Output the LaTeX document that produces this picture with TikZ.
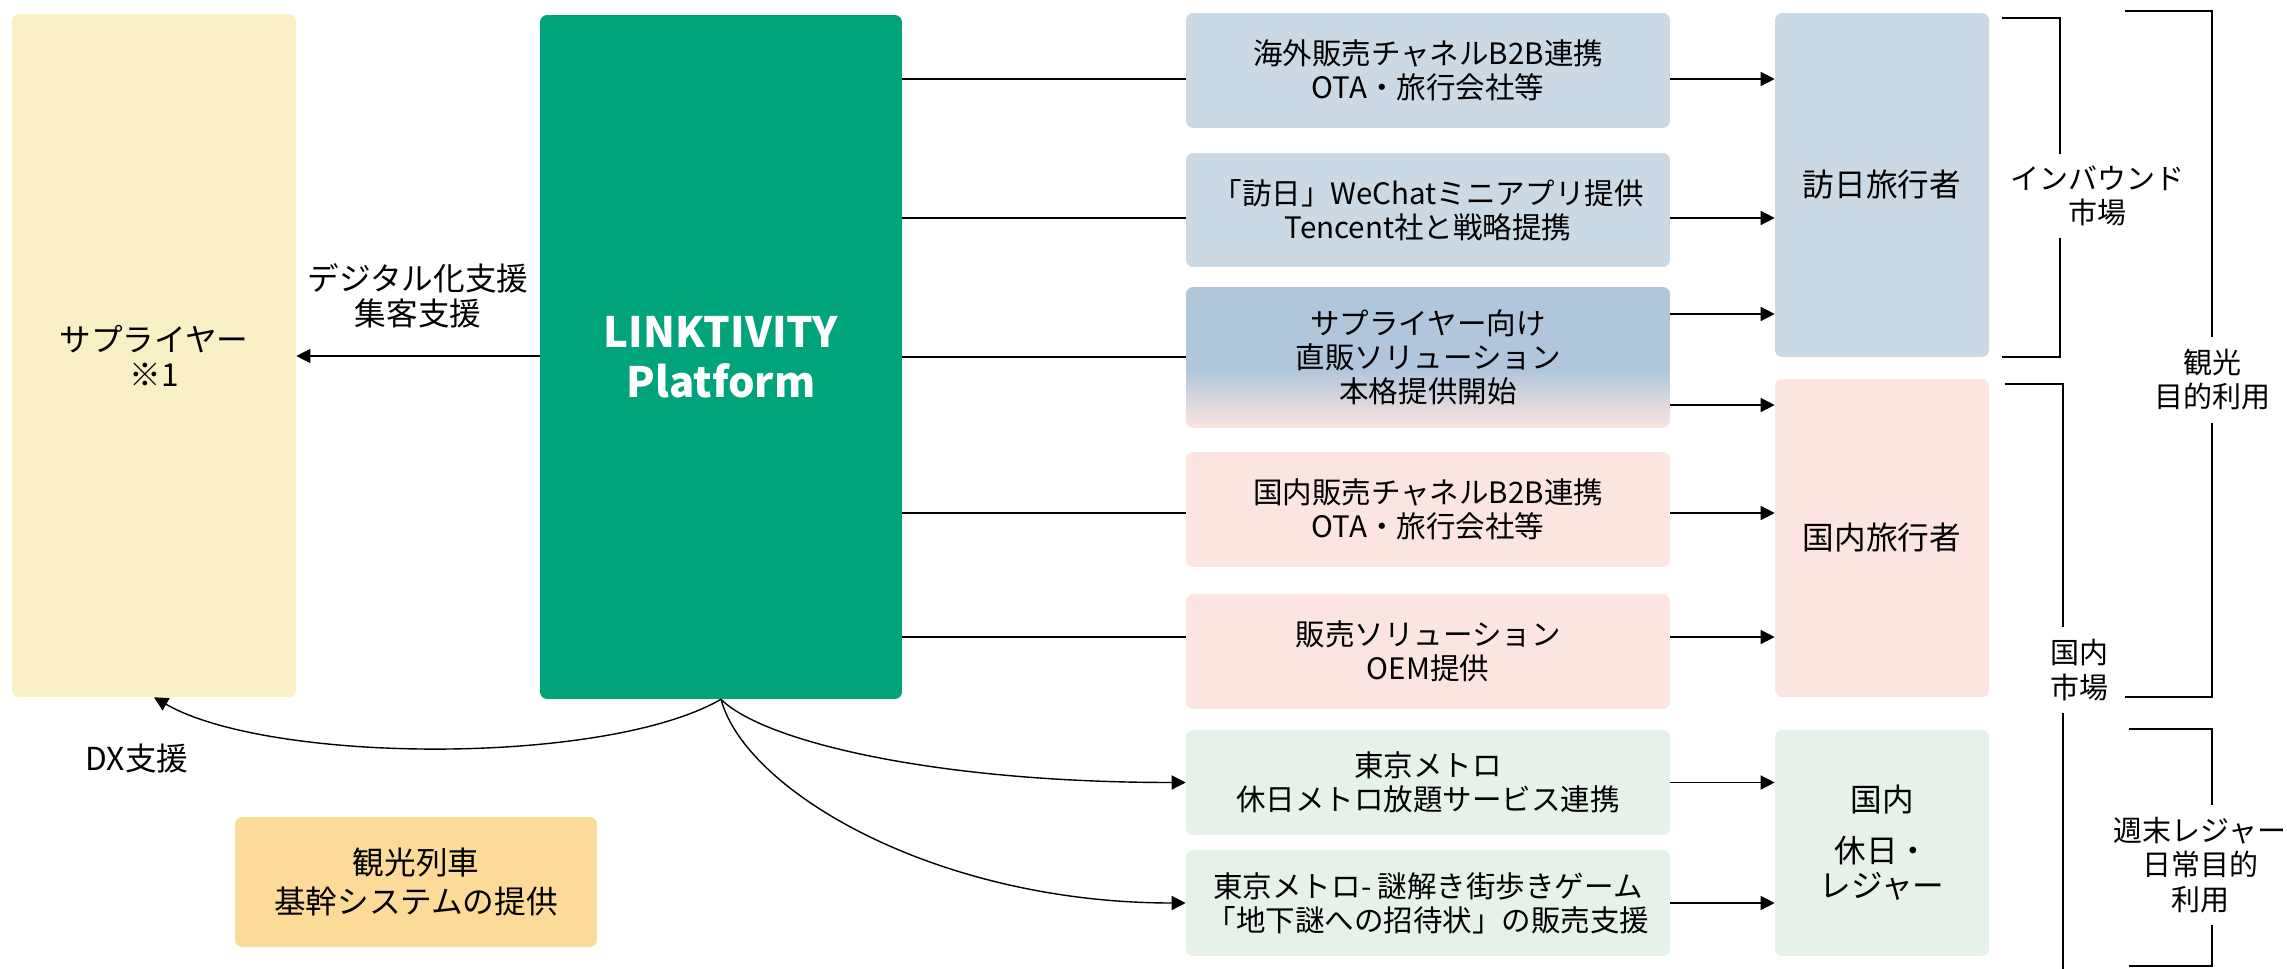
\documentclass[tikz,border=0pt]{standalone}
\usepackage{fontspec}
\setmainfont{Noto Sans CJK JP}
\usepackage{tikz}
\usetikzlibrary{arrows.meta}

\definecolor{supyellow}{HTML}{F9F0C6}
\definecolor{platgreen}{HTML}{00A37A}
\definecolor{trainorange}{HTML}{FCDA98}
\definecolor{inblue}{HTML}{CBD9E4}
\definecolor{bandblue}{HTML}{AFC6DB}
\definecolor{dompink}{HTML}{FCE4E0}
\definecolor{leigreen}{HTML}{E6F1EA}
\pgfdeclareverticalshading{bandshade}{100bp}{color(0bp)=(dompink); color(25bp)=(dompink); color(46bp)=(bandblue); color(100bp)=(bandblue)}

\begin{document}
\begin{tikzpicture}[x=0.02cm, y=-0.02cm,
  box/.style={rounded corners=4pt, inner sep=0pt, align=center, font=\fontsize{16.8pt}{19.4pt}\selectfont},
  mid/.style={box, minimum width=9.68cm},
  mkt/.style={box, minimum width=4.28cm, font=\fontsize{18pt}{20pt}\selectfont},
  lbl/.style={align=center, font=\fontsize{18pt}{20pt}\selectfont},
  brk/.style={fill=white, align=center, inner xsep=2pt, inner ysep=7pt, font=\fontsize{16.5pt}{19.4pt}\selectfont},
  link/.style={line width=0.8pt},
  arr/.style={link, -{Triangle[length=8pt,width=8pt]}}]
\useasboundingbox (0,0) rectangle (2287,969);
\node[box, fill=supyellow, minimum width=5.68cm, minimum height=13.66cm, font=\fontsize{18pt}{20pt}\selectfont] (sup) at (154,355.5) {サプライヤー\\※1};
\node[box, fill=platgreen, text=white, minimum width=7.24cm, minimum height=13.68cm, font=\fontsize{23.8pt}{28.5pt}\selectfont\bfseries] (plat) at (721,357) {LINKTIVITY\\Platform};
\node[box, fill=trainorange, minimum width=7.24cm, minimum height=2.6cm, font=\fontsize{18pt}{22pt}\selectfont] (train) at (416,882) {観光列車\\基幹システムの提供};

\node[mid, fill=inblue, minimum height=2.3cm] (b1) at (1428,70.5) {海外販売チャネルB2B連携\\OTA・旅行会社等};
\node[mid, fill=inblue, minimum height=2.28cm] (b2) at (1428,210) {「訪日」WeChatミニアプリ提供\\Tencent社と戦略提携};
\node[mid, shading=bandshade, minimum height=2.82cm] (b3) at (1428,357.5) {サプライヤー向け\\直販ソリューション\\本格提供開始};
\node[mid, fill=dompink, minimum height=2.3cm] (b4) at (1428,509.5) {国内販売チャネルB2B連携\\OTA・旅行会社等};
\node[mid, fill=dompink, minimum height=2.3cm] (b5) at (1428,651.5) {販売ソリューション\\OEM提供};
\node[mid, fill=leigreen, minimum height=2.1cm] (b6) at (1428,782.5) {東京メトロ\\休日メトロ放題サービス連携};
\node[mid, fill=leigreen, minimum height=2.12cm] (b7) at (1428,903) {東京メトロ- 謎解き街歩きゲーム\\「地下謎への招待状」の販売支援};

\node[mkt, fill=inblue, minimum height=6.88cm] (tv) at (1882,185) {訪日旅行者};
\node[mkt, fill=dompink, minimum height=6.36cm] (dom) at (1882,538) {国内旅行者};
\node[mkt, fill=leigreen, minimum height=4.52cm] (lei) at (1882,843) {国内\\[0.5em]休日・\\レジャー};

\coordinate (r0) at (0,356);
\coordinate (r1) at (0,79);
\coordinate (r2) at (0,218);
\coordinate (r3) at (0,357);
\coordinate (r4) at (0,513);
\coordinate (r5) at (0,637);
\coordinate (r3a) at (0,314);
\coordinate (r3b) at (0,405);

\foreach \r/\b in {r1/b1, r2/b2, r3/b3, r4/b4, r5/b5}
  \draw[link] (plat.east |- \r) -- (\b.west |- \r);
\draw[arr] (b1.east |- r1) -- (tv.west |- r1);
\draw[arr] (b2.east |- r2) -- (tv.west |- r2);
\draw[arr] (b3.east |- r3a) -- (tv.west |- r3a);
\draw[arr] (b3.east |- r3b) -- (dom.west |- r3b);
\draw[arr] (b4.east |- r4) -- (dom.west |- r4);
\draw[arr] (b5.east |- r5) -- (dom.west |- r5);
\draw[arr] (b6.east) -- (lei.west |- b6.east);
\draw[arr] (b7.east) -- (lei.west |- b7.east);

\draw[arr] (plat.west |- r0) -- (sup.east |- r0);
\node[lbl] (dig) at (418,296) {デジタル化支援\\集客支援};
\draw[arr] (plat.south) to[out=-150, in=-30, looseness=0.6] (sup.south);
\node[lbl] (dx) at (137,759) {DX支援};
\draw[arr] (plat.south) to[out=-45, in=180, out distance=1.2cm, in distance=5cm] (b6.west);
\draw[arr] (plat.south) to[out=-75, in=180, out distance=1.9cm, in distance=5cm] (b7.west);

\draw[link] (2002,18) -- (2060,18) -- (2060,357) -- (2002,357);
\node[brk] (inb) at (2097,196) {インバウンド\\市場};
\draw[link] (2005,384) -- (2063,384) -- (2063,969);
\node[brk] (domm) at (2079,670) {国内\\市場};
\draw[link] (2125,11) -- (2212,11) -- (2212,697) -- (2125,697);
\node[brk] (kan) at (2212,380) {観光\\目的利用};
\draw[link] (2129,729) -- (2212,729) -- (2212,966) -- (2129,966);
\node[brk] (wk) at (2200,865) {週末レジャー\\日常目的\\利用};
\end{tikzpicture}
\end{document}
